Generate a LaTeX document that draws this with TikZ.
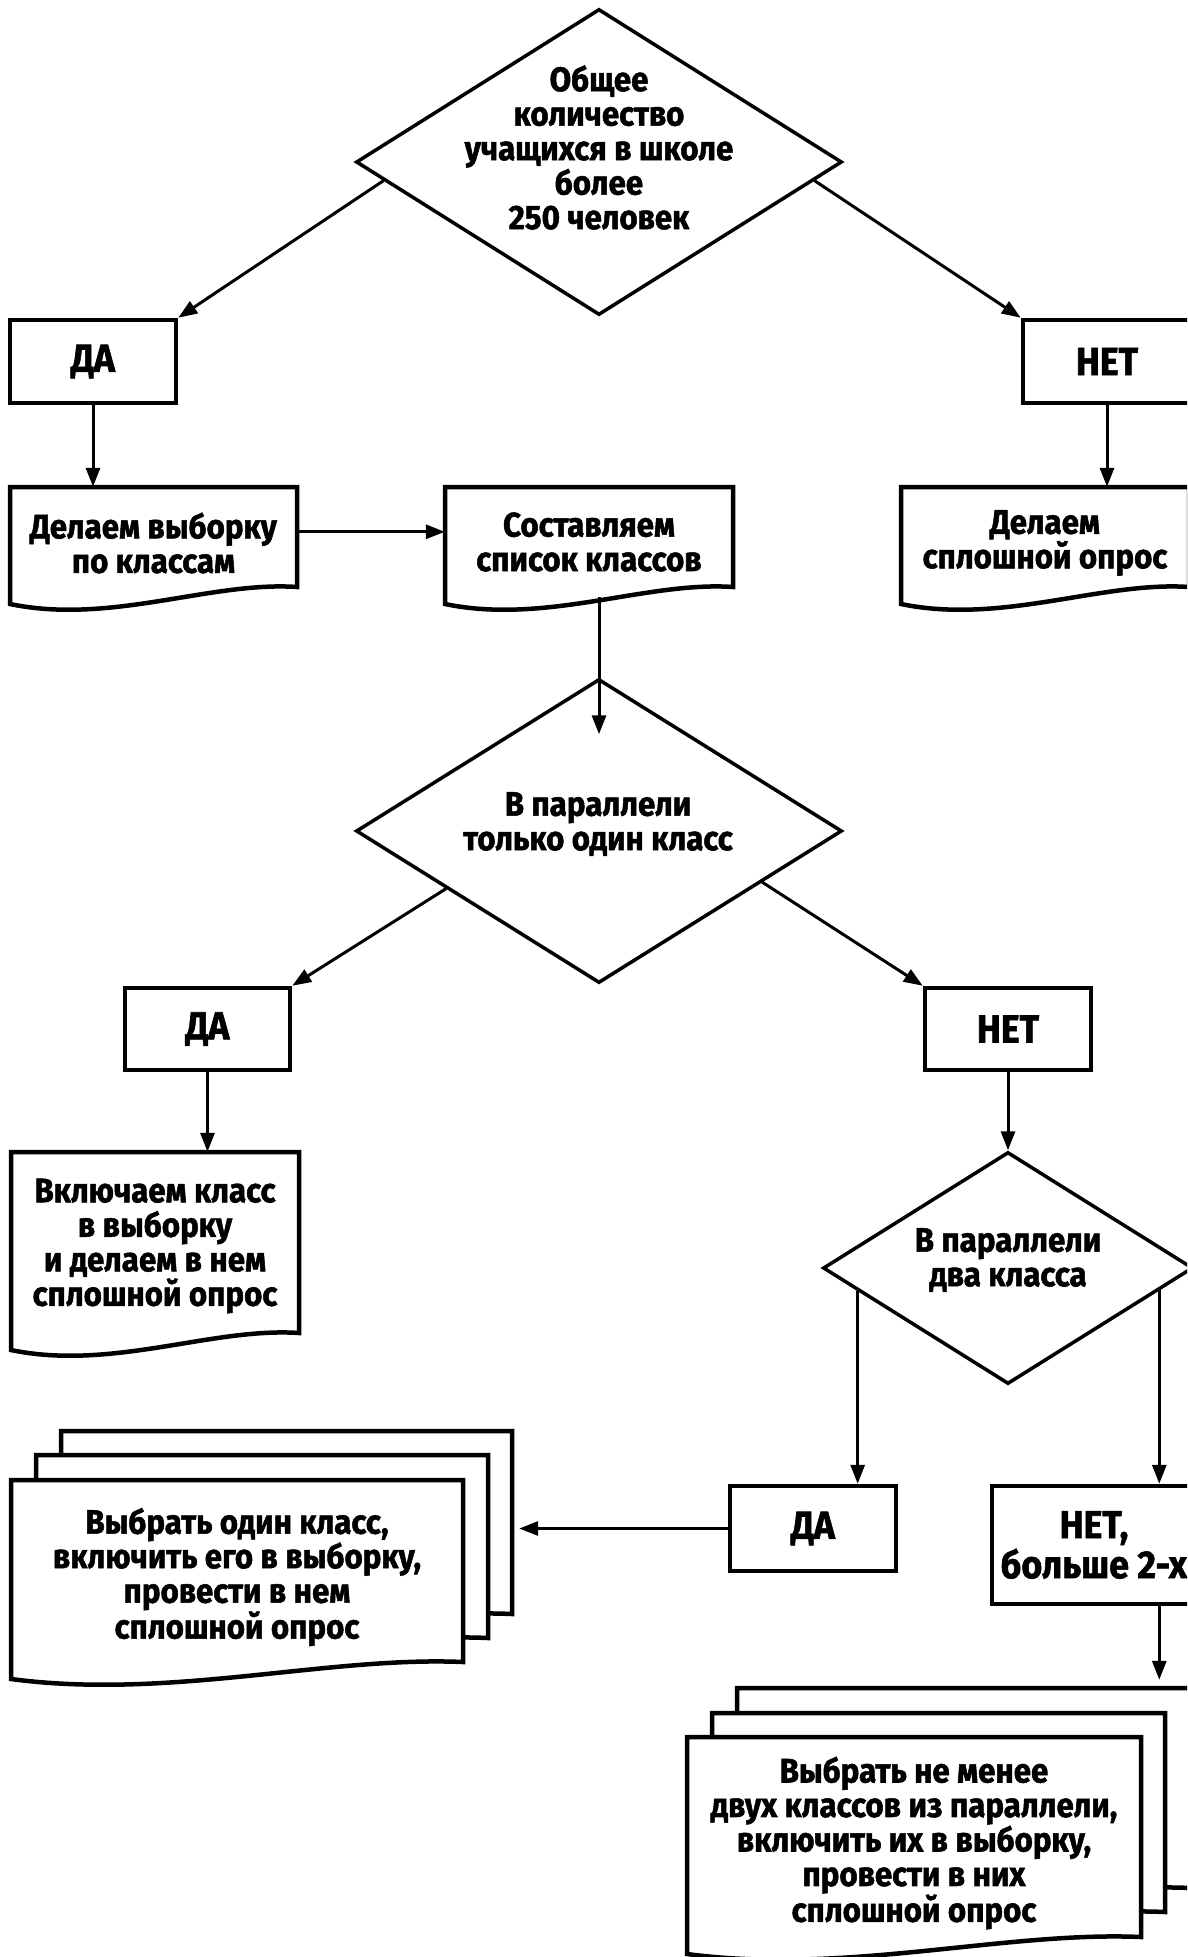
\documentclass[tikz,border=0pt]{standalone}
\usepackage{fontspec}
\newfontfamily\lab{Fira Sans}[FakeStretch=0.92, BoldFeatures={FakeBold=1.5}]
\usetikzlibrary{shapes.geometric,arrows.meta,calc}
\newcommand\mkdoc[7]{%
  \draw[docshp] (#2,#4) -- (#3,#4) -- (#3,#4+#5)
    .. controls ({#3-0.3*(#3-#2)},{#4+#5-6}) and ({#2+0.35*(#3-#2)},{#4+#5+38}) ..
    (#2,{#4+#5+17}) -- cycle;
  \node[docn, minimum width={(#3-#2)*1pt}, minimum height={2*(#6-#4)*1pt}] (#1) at ({(#2+#3)/2},#6) {#7};}
\begin{document}
\begin{tikzpicture}[x=1pt,y=-1pt,
  docshp/.style={draw=black,line width=4.5pt,fill=white,line join=miter},
  boxn/.style={draw=black,line width=4.5pt,fill=white,rectangle,inner sep=0pt,
    font=\lab\bfseries\fontsize{39}{40}\selectfont,align=center},
  dia/.style={draw=black,line width=3.5pt,fill=white,diamond,inner sep=0pt},
  docn/.style={rectangle,inner sep=0pt,font=\lab\bfseries\fontsize{34}{34.5}\selectfont,align=center},
  txt/.style={inner sep=0pt,font=\lab\bfseries\fontsize{34}{34.5}\selectfont,align=center},
  arr/.style={line width=3pt,-{Triangle[length=19pt,width=14pt]}}]
\fill[white] (0,0) rectangle (1187,1957);
\useasboundingbox (0,0) rectangle (1187,1957);
\clip (0,0) rectangle (1187,1957);

% decisions
\node[dia, minimum width=486pt, minimum height=306pt] (d1) at (599,162) {};
\node[txt] (t1) at (599,147.5) {Общее\\количество\\учащихся в школе\\более\\250 человек};
\node[dia, minimum width=486pt, minimum height=304pt] (d2) at (599,831) {};
\node[txt] (t2) at (598,824) {В параллели\\только один класс};
\node[dia, minimum width=370pt, minimum height=232pt] (d3) at (1008,1268) {};
\node[txt] (t3) at (1008,1260) {В параллели\\два класса};

% yes / no boxes
\node[boxn, minimum width=166pt, minimum height=83pt] (da1) at (93,361.5) {ДА};
\node[boxn, minimum width=168pt, minimum height=83pt] (net1) at (1107,361.5) {НЕТ};
\node[boxn, minimum width=165pt, minimum height=82pt] (da2) at (207.5,1029) {ДА};
\node[boxn, minimum width=166pt, minimum height=82pt] (net2) at (1008,1029) {НЕТ};
\node[boxn, minimum width=166pt, minimum height=85pt] (da3) at (813,1528.5) {ДА};
\node[boxn, minimum width=204pt, minimum height=118pt] (net3) at (1094,1545) {НЕТ,\\больше 2-х};

% documents
\mkdoc{doc1}{10}{297}{487}{100}{543}{Делаем выборку\\по классам}
\mkdoc{doc2}{445}{733}{487}{100}{542}{Составляем\\список классов}
\mkdoc{doc3}{901}{1189}{487}{100}{543}{Делаем\\сплошной опрос}
\mkdoc{doc4}{11}{299}{1152}{181}{1246}{Включаем класс\\в выборку\\и делаем в нем\\сплошной опрос}

% multi documents
\mkdoc{mb1}{61}{512}{1431}{183}{1528}{}
\mkdoc{mm1}{36}{488}{1455}{183}{1552}{}
\mkdoc{mdoc1}{11}{463}{1480}{182}{1577}{Выбрать один класс,\\включить его в выборку,\\провести в нем\\сплошной опрос}
\mkdoc{mb2}{737}{1191}{1688}{200}{1794}{}
\mkdoc{mm2}{712}{1165}{1713}{199}{1819}{}
\mkdoc{mdoc2}{687}{1141}{1737}{200}{1843}{Выбрать не менее\\двух классов из параллели,\\включить их в выборку,\\провести в них\\сплошной опрос}

% connectors
\coordinate (p3l) at ($(d3.west)!0.195!(d3.south)$);
\coordinate (p3r) at ($(d3.east)!0.19!(d3.south)$);
\draw[arr] ($(d1.west)!0.12!(d1.south)$) -- (da1.north east);
\draw[arr] ($(d1.east)!0.12!(d1.south)$) -- (net1.north west);
\draw[arr] (da1.south) -- (da1.south |- doc1.north);
\draw[arr] (net1.south) -- (net1.south |- doc3.north);
\draw[arr] ($(doc1.north east)+(0,45)$) -- ($(doc2.north west)+(0,45)$);
\draw[arr] (d2.north |- doc2.south) -- ($(d2.north)+(0,57)$);
\draw[arr] ($(d2.west)!0.375!(d2.south)$) -- (da2.north east);
\draw[arr] ($(d2.east)!0.333!(d2.south)$) -- (net2.north west);
\draw[arr] (da2.south) -- (da2.south |- doc4.north);
\draw[arr] (net2.south) -- (d3.north);
\draw[arr] (p3l) -- (p3l |- da3.north);
\draw[arr] (p3r) -- (p3r |- net3.north);
\draw[arr] (da3.west) -- ($(da3.west -| mb1.east)+(7,0)$);
\draw[arr] (p3r |- net3.south) -- ($(p3r |- mb2.north)+(0,-8)$);
\end{tikzpicture}
\end{document}
